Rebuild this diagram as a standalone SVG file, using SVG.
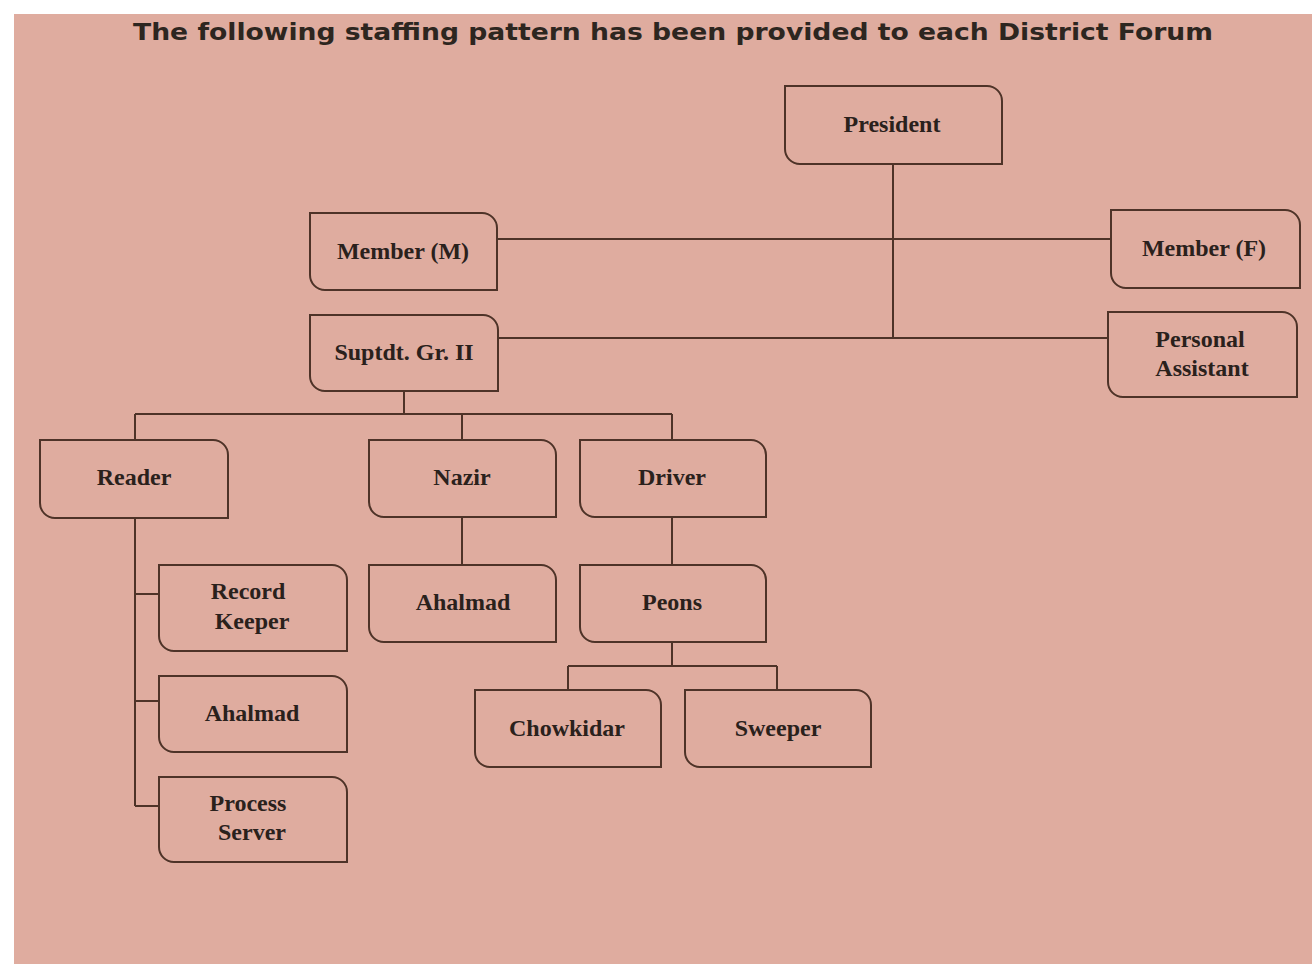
<svg xmlns="http://www.w3.org/2000/svg" width="1312" height="966" viewBox="0 0 1312 966">
<defs>
<style>
.bx{fill:#dfac9f;stroke:#4e3328;stroke-width:2}
.t{font-family:"Liberation Serif","Times New Roman",serif;font-weight:bold;font-size:24px;fill:#2a211c;text-anchor:middle}
.ttl{font-family:"DejaVu Sans",Verdana,sans-serif;font-weight:bold;font-size:23px;fill:#2d2620;text-anchor:middle}
.c{fill:none;stroke:#4e3328;stroke-width:2}
</style>
</defs>
<rect x="0" y="0" width="1312" height="966" fill="#ffffff"/>
<rect x="14" y="14" width="1298" height="950" fill="#dfac9f"/>
<text class="ttl" x="673" y="40" textLength="1080" lengthAdjust="spacingAndGlyphs">The following staffing pattern has been provided to each District Forum</text>
<g id="connectors">
<path class="c" d="M893 164V337"/>
<path class="c" d="M497 239H1111"/>
<path class="c" d="M498 338H1108"/>
<path class="c" d="M404 391V414M135 414H672M135 414V440M462 414V440M672 414V440"/>
<path class="c" d="M135 518V806M135 594H159M135 701H159M135 806H159"/>
<path class="c" d="M462 517V565"/>
<path class="c" d="M672 517V565"/>
<path class="c" d="M672 642V666M568 666H777M568 666V690M777 666V690"/>
</g>
<g id="president"><path class="bx" d="M785 86H987A15 15 0 0 1 1002 101V164H800A15 15 0 0 1 785 149Z"/><text class="t" x="892" y="132">President</text></g>
<g id="member-m"><path class="bx" d="M310 213H482A15 15 0 0 1 497 228V290H325A15 15 0 0 1 310 275Z"/><text class="t" x="403" y="259">Member (M)</text></g>
<g id="member-f"><path class="bx" d="M1111 210H1285A15 15 0 0 1 1300 225V288H1126A15 15 0 0 1 1111 273Z"/><text class="t" x="1204" y="256">Member (F)</text></g>
<g id="suptdt"><path class="bx" d="M310 315H483A15 15 0 0 1 498 330V391H325A15 15 0 0 1 310 376Z"/><text class="t" x="404" y="360">Suptdt. Gr. II</text></g>
<g id="pa"><path class="bx" d="M1108 312H1282A15 15 0 0 1 1297 327V397H1123A15 15 0 0 1 1108 382Z"/><text class="t" x="1200" y="347">Personal</text><text class="t" x="1202" y="376">Assistant</text></g>
<g id="reader"><path class="bx" d="M40 440H213A15 15 0 0 1 228 455V518H55A15 15 0 0 1 40 503Z"/><text class="t" x="134" y="485">Reader</text></g>
<g id="nazir"><path class="bx" d="M369 440H541A15 15 0 0 1 556 455V517H384A15 15 0 0 1 369 502Z"/><text class="t" x="462" y="485">Nazir</text></g>
<g id="driver"><path class="bx" d="M580 440H751A15 15 0 0 1 766 455V517H595A15 15 0 0 1 580 502Z"/><text class="t" x="672" y="485">Driver</text></g>
<g id="record-keeper"><path class="bx" d="M159 565H332A15 15 0 0 1 347 580V651H174A15 15 0 0 1 159 636Z"/><text class="t" x="248" y="599">Record</text><text class="t" x="252" y="629">Keeper</text></g>
<g id="ahalmad-1"><path class="bx" d="M159 676H332A15 15 0 0 1 347 691V752H174A15 15 0 0 1 159 737Z"/><text class="t" x="252" y="721">Ahalmad</text></g>
<g id="process-server"><path class="bx" d="M159 777H332A15 15 0 0 1 347 792V862H174A15 15 0 0 1 159 847Z"/><text class="t" x="248" y="811">Process</text><text class="t" x="252" y="840">Server</text></g>
<g id="ahalmad-2"><path class="bx" d="M369 565H541A15 15 0 0 1 556 580V642H384A15 15 0 0 1 369 627Z"/><text class="t" x="463" y="610">Ahalmad</text></g>
<g id="peons"><path class="bx" d="M580 565H751A15 15 0 0 1 766 580V642H595A15 15 0 0 1 580 627Z"/><text class="t" x="672" y="610">Peons</text></g>
<g id="chowkidar"><path class="bx" d="M475 690H646A15 15 0 0 1 661 705V767H490A15 15 0 0 1 475 752Z"/><text class="t" x="567" y="736">Chowkidar</text></g>
<g id="sweeper"><path class="bx" d="M685 690H856A15 15 0 0 1 871 705V767H700A15 15 0 0 1 685 752Z"/><text class="t" x="778" y="736">Sweeper</text></g>
</svg>
